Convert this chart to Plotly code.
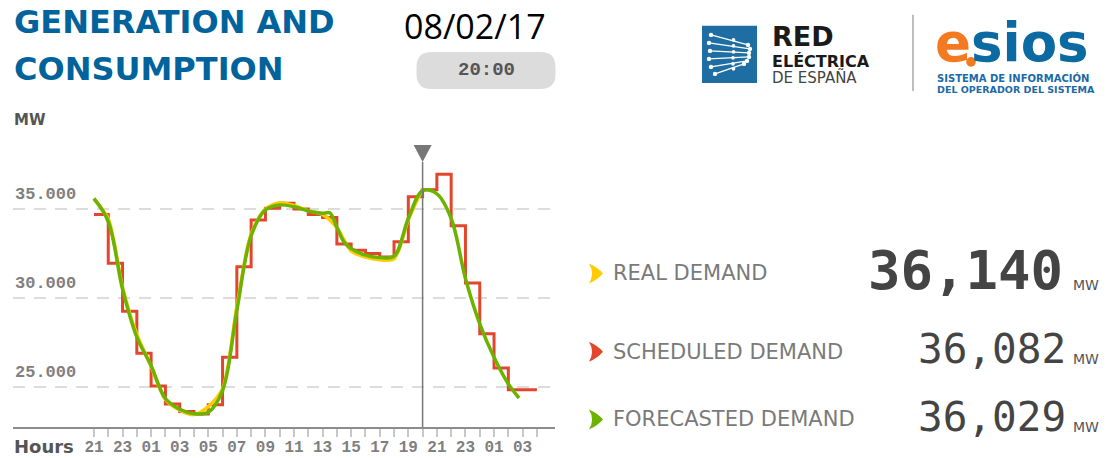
import plotly.graph_objects as go
import pandas as pd

# ---------------- data ----------------
hours = pd.date_range("2017-02-07 21:00", "2017-02-09 04:00", freq="h")  # 32 hourly stamps
hour_labels = ["21", "", "23", "", "01", "", "03", "", "05", "", "07", "", "09", "", "11", "",
               "13", "", "15", "", "17", "", "19", "", "21", "", "23", "", "01", "", "03", ""]

scheduled = [34700, 31950, 29260, 26900, 25050, 24040, 23620, 23480, 24000, 26670, 31750, 34380,
             35040, 35320, 35000, 34700, 34530, 33030, 32690, 32500, 32310, 33160, 35690, 36082,
             36960, 34060, 30840, 27990, 26070, 24850, 24850, 24850]

real_demand = [35550, 34450, 30600, 27950, 26150, 24300, 23700, 23450, 23900, 24900, 29500, 33600,
               35000, 35350, 35200, 34900, 34700, 33950, 32650, 32300, 32150, 32200, 34400, 36140]

forecast_hourly = [35600, 34300, 30500, 27800, 26200, 24350, 23750, 23500, 23580, 24800, 29300, 33500,
                   34950, 35230, 35130, 34890, 34760, 33980, 32780, 32410, 32270, 32350, 34470, 36029,
                   35850, 34470, 31100, 28550, 26670, 25170]
forecast_extra_times = ["2017-02-08 13:30", "2017-02-08 14:30", "2017-02-09 02:45"]
forecast_extra_values = [34790, 33150, 24380]

y_tick_values = [25000, 30000, 35000]
y_tick_labels = ["25.000", "30.000", "35.000"]

current_time = "2017-02-08 20:00"
date_label = "08/02/17"
time_label = "20:00"
legend_names = ["REAL DEMAND", "SCHEDULED DEMAND", "FORECASTED DEMAND"]
legend_values = ["36,140", "36,082", "36,029"]

# ---------------- styles ----------------
RED = "#e2462c"
YELLOW = "#ffcc00"
GREEN = "#6cb200"
BLUE_TITLE = "#00639b"
GREY_TXT = "#7a7a7a"

# plot area in pixels
L, R, T, B = 13, 555, 145, 426.7
W_FIG, H_FIG = 1109, 458


def fx(px):
    return (px - L) / (R - L)


def fy(py):
    return (B - py) / (B - T)


# forecast series merged with the extra readings
f_times = list(hours[:len(forecast_hourly)]) + [pd.Timestamp(t) for t in forecast_extra_times]
f_vals = list(forecast_hourly) + list(forecast_extra_values)
order = sorted(range(len(f_times)), key=lambda i: f_times[i])
f_times = [f_times[i] for i in order]
f_vals = [f_vals[i] for i in order]

fig = go.Figure()
fig.add_trace(go.Scatter(x=hours, y=scheduled, mode="lines",
                         line=dict(color=RED, width=3, shape="hv"), hoverinfo="skip"))
fig.add_trace(go.Scatter(x=hours[:len(real_demand)], y=real_demand, mode="lines",
                         line=dict(color=YELLOW, width=3.5, shape="spline", smoothing=0.8),
                         hoverinfo="skip"))
fig.add_trace(go.Scatter(x=f_times, y=f_vals, mode="lines",
                         line=dict(color=GREEN, width=3.5, shape="spline", smoothing=1.0),
                         hoverinfo="skip"))

shapes = []
# current-time marker
shapes.append(dict(type="line", xref="x", yref="paper", x0=current_time, x1=current_time,
                   y0=0, y1=fy(162), line=dict(color="#777777", width=1.5)))
shapes.append(dict(type="path", xref="x", yref="paper", xsizemode="pixel", ysizemode="pixel",
                   xanchor=current_time, yanchor=1, path="M -9,0 L 9,0 L 0,-17 Z",
                   fillcolor="#777777", line=dict(width=0)))


def rrect(w, h, r):
    x0, x1, y0, y1 = -w / 2, w / 2, -h / 2, h / 2
    return (f"M {x0 + r},{y0} L {x1 - r},{y0} Q {x1},{y0} {x1},{y0 + r} L {x1},{y1 - r} "
            f"Q {x1},{y1} {x1 - r},{y1} L {x0 + r},{y1} Q {x0},{y1} {x0},{y1 - r} "
            f"L {x0},{y0 + r} Q {x0},{y0} {x0 + r},{y0} Z")


def pix_path(cx, cy, path, color):
    return dict(type="path", xref="paper", yref="paper", xsizemode="pixel", ysizemode="pixel",
                xanchor=fx(cx), yanchor=fy(cy), path=path, fillcolor=color, line=dict(width=0))


def pix_circle(cx, cy, r, color):
    return dict(type="circle", xref="paper", yref="paper", xsizemode="pixel", ysizemode="pixel",
                xanchor=fx(cx), yanchor=fy(cy), x0=-r, x1=r, y0=-r, y1=r,
                fillcolor=color, line=dict(width=0))


# time pill
shapes.append(pix_path(486, 70.5, rrect(139, 37, 15), "#dcdcdc"))

# legend chevrons
chev = "M -7,10 Q 2,6 7,0 Q 2,-6 -7,-10 Q -1,0 -7,10 Z"
for cy, col in zip([273.3, 351.5, 419.2], [YELLOW, RED, GREEN]):
    shapes.append(pix_path(596, cy, chev, col))

# Red Eléctrica logo square + network motif
shapes.append(dict(type="rect", xref="paper", yref="paper", x0=fx(702), x1=fx(757),
                   y0=fy(83), y1=fy(26), fillcolor="#1f6ea3", line=dict(width=0)))
net = [((711, 35), (748, 45)), ((709, 43), (750, 49)), ((710, 51), (749, 53)),
       ((709, 59), (749, 57)), ((711, 67), (747, 61)), ((715, 74), (744, 64))]
for (xa, ya), (xb, yb) in net:
    shapes.append(dict(type="line", xref="paper", yref="paper", x0=fx(xa), y0=fy(ya),
                       x1=fx(xb), y1=fy(yb), line=dict(color="white", width=1.3)))
    shapes.append(pix_circle(xa, ya, 2.2, "white"))
    shapes.append(pix_circle(xb, yb, 2.2, "white"))
    shapes.append(pix_circle((xa + xb) / 2 + 4, (ya + yb) / 2, 1.8, "white"))
# separator
shapes.append(dict(type="line", xref="paper", yref="paper", x0=fx(913), x1=fx(913),
                   y0=fy(15), y1=fy(91), line=dict(color="#a8a8a8", width=1.5)))
# esios dot
shapes.append(pix_circle(971, 62, 4.8, "#f47920"))

ann = []


def text(px, py, s, size, color, family, weight="normal", xanchor="left"):
    ann.append(dict(x=fx(px), y=fy(py), xref="paper", yref="paper", text=s, showarrow=False,
                    xanchor=xanchor, yanchor="middle",
                    font=dict(family=family, size=size, color=color, weight=weight)))


text(12, 22.5, "GENERATION AND", 32, BLUE_TITLE, "DejaVu Sans", "bold")
text(12, 69, "CONSUMPTION", 32, BLUE_TITLE, "DejaVu Sans", "bold")
text(12, 120, "MW", 15, "#555555", "DejaVu Sans", "bold")
text(475, 26, date_label, 34, "#000000", "Open Sans", xanchor="center")
text(486, 70, time_label, 19, "#555555", "Liberation Mono", "bold", xanchor="center")
text(12, 446, "Hours", 18, "#555555", "DejaVu Sans", "bold")

for name, cy in zip(legend_names, [273.3, 351.5, 419.2]):
    text(611, cy, name, 21, GREY_TXT, "DejaVu Sans")

text(1065, 270, legend_values[0], 54, "#444444", "DejaVu Sans Mono", "bold", xanchor="right")
text(1068, 348.3, legend_values[1], 41, "#444444", "DejaVu Sans Mono", xanchor="right")
text(1068, 416.7, legend_values[2], 41, "#444444", "DejaVu Sans Mono", xanchor="right")
for cy in [285, 358.3, 426.7]:
    text(1071, cy, "MW", 14, "#555555", "DejaVu Sans")

# logo texts
text(770, 36.5, "RED", 27, "#1a1a1a", "DejaVu Sans", "bold")
text(770, 62, "ELÉCTRICA", 16, "#1a1a1a", "DejaVu Sans", "bold")
text(770, 78, "DE ESPAÑA", 15, "#444444", "DejaVu Sans")
ann.append(dict(x=fx(933), y=fy(43), xref="paper", yref="paper", showarrow=False,
                xanchor="left", yanchor="middle",
                text="<span style='color:#f47920'>e</span><span style='color:#0a6aa1'>sios</span>",
                font=dict(family="DejaVu Sans", size=53, weight="bold")))
text(935, 78, "SISTEMA DE INFORMACIÓN", 10, "#1a6aa8", "DejaVu Sans", "bold")
text(935, 89.5, "DEL OPERADOR DEL SISTEMA", 9.5, "#1a6aa8", "DejaVu Sans", "bold")

# y tick labels drawn above the gridlines
for v, s in zip(y_tick_values, y_tick_labels):
    ann.append(dict(x=0, xref="paper", y=v, yref="y", text=s, showarrow=False,
                    xanchor="left", yanchor="bottom", yshift=3,
                    font=dict(family="Liberation Mono", size=17, color="#808080", weight="bold")))

fig.update_layout(
    width=W_FIG, height=H_FIG, autosize=False,
    margin=dict(l=L, r=W_FIG - R, t=T, b=H_FIG - B),
    paper_bgcolor="white", plot_bgcolor="white", showlegend=False,
    shapes=shapes, annotations=ann,
    xaxis=dict(type="date", range=["2017-02-07 15:20", "2017-02-09 05:16"],
               tickvals=hours, ticktext=hour_labels, ticks="outside", ticklen=8,
               tickcolor="#c8c8c8", tickwidth=1.5, showline=True, linecolor="#8c8c8c",
               linewidth=2, showgrid=False, zeroline=False, automargin=False,
               ticklabelstandoff=-4,
               tickfont=dict(family="Liberation Mono", size=16, color="#808080", weight="bold")),
    yaxis=dict(range=[22750, 38600], tickvals=y_tick_values, showticklabels=False,
               showgrid=True, gridcolor="#dcdcdc", gridwidth=1.5, griddash="12px,9px",
               zeroline=False, ticks="", automargin=False),
)

fig.write_html("out.html", config={"displayModeBar": False},
               post_script="document.body.style.margin='0';document.body.style.overflow='hidden';")
